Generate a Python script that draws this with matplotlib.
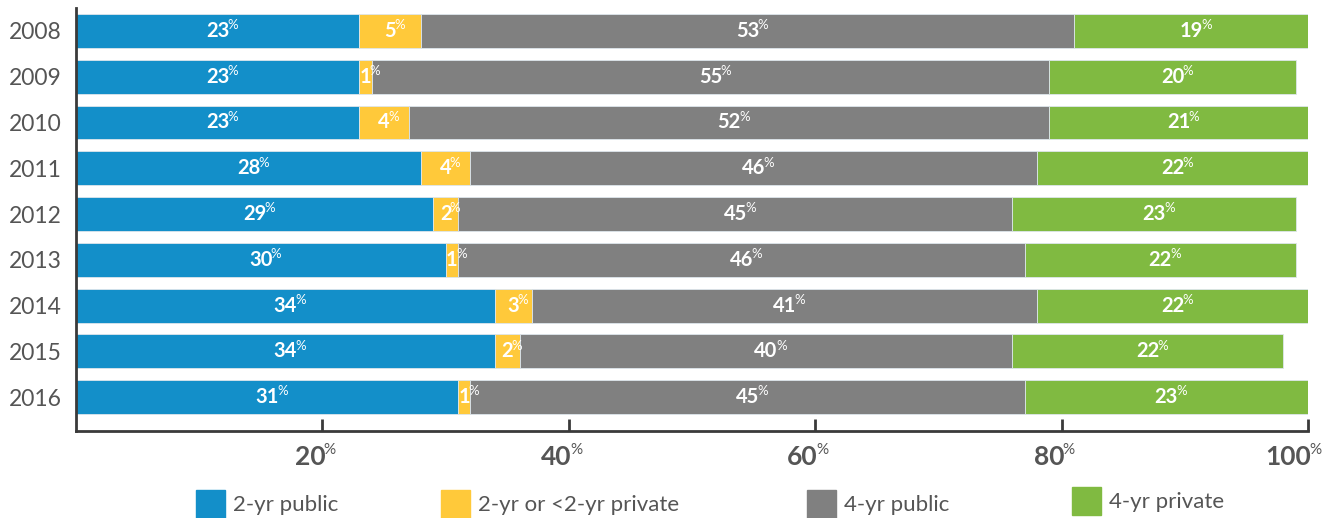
import matplotlib

matplotlib.use("Agg")
from matplotlib import pyplot as plt
from matplotlib.patches import Rectangle

years = ["2008", "2009", "2010", "2011", "2012", "2013", "2014", "2015", "2016"]
two_yr_public = [23, 23, 23, 28, 29, 30, 34, 34, 31]
two_yr_private = [5, 1, 4, 4, 2, 1, 3, 2, 1]
four_yr_public = [53, 55, 52, 46, 45, 46, 41, 40, 45]
four_yr_private = [19, 20, 21, 22, 23, 22, 22, 22, 23]

series_names = ["2-yr public", "2-yr or <2-yr private", "4-yr public", "4-yr private"]
series_colors = ["#138fc9", "#ffc93a", "#808080", "#80ba41"]
xticks = [20, 40, 60, 80, 100]

FONT = "Lato"
TEXT_GRAY = "#555555"
AXIS_DARK = "#3a3a3a"


def pct_label(ax, xy, value, size, sup_size, color, weight, ha="center",
              xycoords="data", offset=(0, 0)):
    # the number, then a small "%" hung off its top-right corner
    num = ax.annotate(str(value), xy, xycoords=xycoords, xytext=offset,
                      textcoords="offset points", ha=ha, va="center",
                      fontsize=size, color=color, family=FONT, weight=weight)
    ax.annotate("%", (1, 1), xycoords=num, xytext=(-1.2, 1.2),
                textcoords="offset points", ha="left", va="top",
                fontsize=sup_size, color=color, family=FONT)
    return num


def main():
    fig = plt.figure(figsize=(13.44, 5.18), dpi=100)
    ax = fig.add_axes([76 / 1344, 1 - 431 / 518, 1232 / 1344, 423 / 518])

    series = [two_yr_public, two_yr_private, four_yr_public, four_yr_private]
    ypos = list(range(len(years)))
    left = [0] * len(years)
    for values, color in zip(series, series_colors):
        ax.barh(ypos, values, left=left, height=0.74, color=color,
                edgecolor="#dde6ec", linewidth=0.6)
        for y, l, v in zip(ypos, left, values):
            pct_label(ax, (l + v / 2, y), v, 14.5, 9.5, "white", "bold")
        left = [l + v for l, v in zip(left, values)]

    ax.set_xlim(0, 100)
    ax.set_ylim(8.74, -0.5)

    ax.set_yticks(ypos)
    ax.set_yticklabels(years, family=FONT, fontsize=16.5, color=TEXT_GRAY)
    ax.tick_params(axis="y", length=0, pad=10)

    ax.set_xticks(xticks)
    ax.set_xticklabels([])
    ax.tick_params(axis="x", direction="in", length=9, width=2, color=AXIS_DARK)
    for v in xticks:
        pct_label(ax, (v, 0), v, 19, 11, TEXT_GRAY, "bold", ha="right",
                  xycoords=ax.get_xaxis_transform(), offset=(2, -18.5))

    for side in ("top", "right"):
        ax.spines[side].set_visible(False)
    for side in ("left", "bottom"):
        ax.spines[side].set_color(AXIS_DARK)
        ax.spines[side].set_linewidth(2)

    # legend laid out along the bottom edge, in pixels
    legend_x = [196, 441, 807, 1072]
    legend_dy = [0, 0, 0, 3]
    for name, color, px, dy in zip(series_names, series_colors, legend_x, legend_dy):
        top = 490 - dy
        fig.patches.append(Rectangle((px / 1344, 1 - (top + 28) / 518), 29 / 1344, 28 / 518,
                                     transform=fig.transFigure, color=color))
        fig.text((px + 37) / 1344, 1 - (top + 15) / 518, name, family=FONT,
                 fontsize=16, color=TEXT_GRAY, va="center", ha="left")

    fig.savefig("out.png", dpi=100)
    plt.close(fig)


if __name__ == "__main__":
    main()
